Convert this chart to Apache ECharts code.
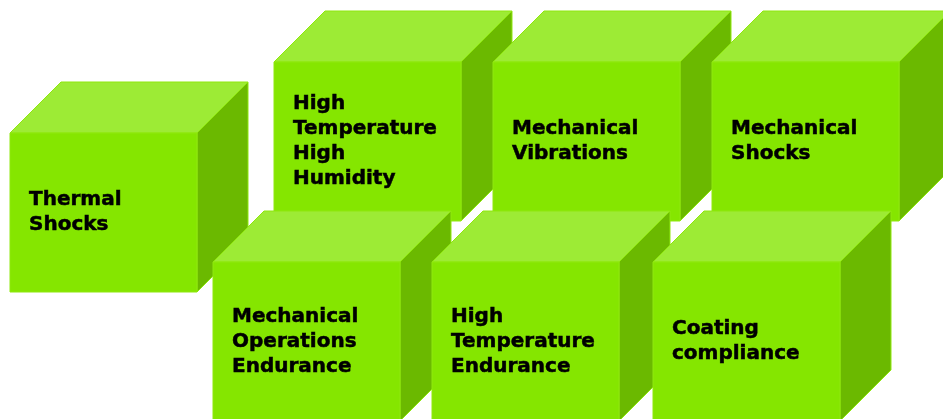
<!DOCTYPE html>
<html>
<head>
<meta charset="utf-8">
<title>Test cubes</title>
<script src="https://cdn.jsdelivr.net/npm/echarts@6/dist/echarts.min.js"></script>
<style>
	html, body { margin: 0; padding: 0; background: #fff; }
	#chart { width: 943px; height: 419px; }
</style>
</head>
<body>
<div id="chart"></div>
<script>
// box labels, top row first so the bottom row is painted over it
var labels = [
	"Thermal\nShocks",
	"High\nTemperature\nHigh\nHumidity",
	"Mechanical\nVibrations",
	"Mechanical\nShocks",
	"Mechanical\nOperations\nEndurance",
	"High\nTemperature\nEndurance",
	"Coating\ncompliance"
];
// front face top-left corner of each box (axis units)
var boxX = [10, 274, 493, 712, 213, 432, 653];
var boxY = [133, 62, 62, 62, 262, 262, 262];

var FACE_W = 187;
var FACE_H = 159;
var DEPTH = 51;

var myChart = echarts.init(document.getElementById('chart'), null, { renderer: 'canvas' });

function renderBox(params, api) {
	var p = api.coord([api.value(0), api.value(1)]);
	var s = api.size([FACE_W, FACE_H]);
	var d = api.size([DEPTH, DEPTH]);
	var x = p[0], y = p[1], w = s[0], h = s[1], dx = d[0], dy = d[1];
	var edge = '#8fe80e';
	return {
		type: 'group',
		z2: params.dataIndex * 10,
		children: [{
			//top face
			type: 'polygon',
			shape: { points: [[x, y], [x + w, y], [x + w + dx, y - dy], [x + dx, y - dy]] },
			style: { fill: '#9deb35', stroke: edge, lineWidth: 1 }
		}, {
			//side face
			type: 'polygon',
			shape: { points: [[x + w, y], [x + w + dx, y - dy], [x + w + dx, y + h - dy], [x + w, y + h]] },
			style: { fill: '#6bb900', stroke: edge, lineWidth: 1 }
		}, {
			//front face
			type: 'rect',
			shape: { x: x, y: y, width: w, height: h },
			style: { fill: '#85e600', stroke: edge, lineWidth: 1 }
		}, {
			type: 'text',
			x: x + 19,
			y: y + h / 2,
			style: {
				text: labels[params.dataIndex],
				fill: '#000',
				stroke: '#000',
				lineWidth: 0.5,
				font: 'bold 20px "DejaVu Sans"',
				lineHeight: 25,
				align: 'left',
				verticalAlign: 'middle'
			}
		}]
	};
}

var boxData = [];
for(var i = 0; i < labels.length; i++) {
	boxData.push([boxX[i], boxY[i]]);
}

var option = {
	animation: false,
	grid: { left: 0, right: 0, top: 0, bottom: 0 },
	xAxis: { type: 'value', min: 0, max: 943, show: false },
	yAxis: { type: 'value', min: 0, max: 419, inverse: true, show: false },
	series: [{
		type: 'custom',
		renderItem: renderBox,
		clip: false,
		data: boxData
	}]
};
myChart.setOption(option);
</script>
</body>
</html>
